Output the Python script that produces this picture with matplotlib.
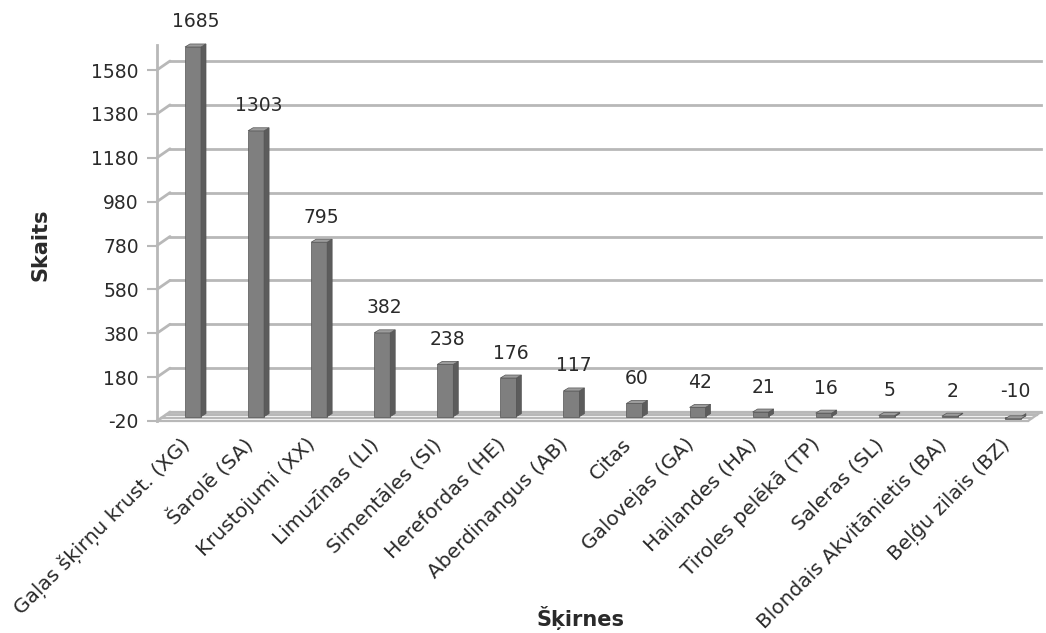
import matplotlib
matplotlib.use('Agg')
import matplotlib.pyplot as plt
from matplotlib.patches import Polygon
from matplotlib.transforms import ScaledTranslation
import numpy as np

plt.rcParams['font.family'] = ['DejaVu Sans']

# dati
skirnes = ['Gaļas šķirņu krust. (XG)', 'Šarolē (SA)', 'Krustojumi (XX)', 'Limuzīnas (LI)',
           'Simentāles (SI)', 'Herefordas (HE)', 'Aberdinangus (AB)', 'Citas',
           'Galovejas (GA)', 'Hailandes (HA)', 'Tiroles pelēkā (TP)', 'Saleras (SL)',
           'Blondais Akvitānietis (BA)', 'Beļģu zilais (BZ)']
skaits = [1685, 1303, 795, 382, 238, 176, 117, 60, 42, 21, 16, 5, 2, -10]
y_ticks = [-20, 180, 380, 580, 780, 980, 1180, 1380, 1580]

W, H = 1046, 633
fig = plt.figure(figsize=(W / 100, H / 100), dpi=100)
# axes in pixel geometry
x0, x1 = 157, 1028
y_bot, y_top = 421, 45
ax = fig.add_axes([x0 / W, 1 - y_bot / H, (x1 - x0) / W, (y_bot - y_top) / H])

px_per_val = 351 / 1600.0
ymin = -20
ymax = ymin + (y_bot - y_top) / px_per_val
step_px = 63.07
xmin = -(193 - x0) / step_px
xmax = xmin + (x1 - x0) / step_px
ax.set_xlim(xmin, xmax)
ax.set_ylim(ymin, ymax)

grid_c = '#b8b8b8'
txt_c = '#2a2a2a'
dx_px, dy_px = 13, 9
shift = ScaledTranslation(dx_px / 100, dy_px / 100, fig.dpi_scale_trans)
ytr = ax.get_yaxis_transform()

# back wall gridlines (offset in depth)
for t in y_ticks:
    ax.plot([0, 1], [t, t], transform=ytr + shift, color=grid_c, lw=2, clip_on=False, zorder=1)
    ax.annotate('', xy=(0, t), xycoords=ytr, xytext=(0, t), textcoords=ytr + shift,
                arrowprops=dict(arrowstyle='-', color=grid_c, lw=2, shrinkA=0, shrinkB=0))

# floor
for off in [0, 3, 6, 9]:
    s = ScaledTranslation(off * dx_px / 9 / 100, off / 100, fig.dpi_scale_trans)
    ax.plot([0, 1], [ymin, ymin], transform=ytr + s, color=grid_c, lw=1.6, clip_on=False, zorder=1)
ax.annotate('', xy=(1, ymin), xycoords=ytr, xytext=(1, ymin), textcoords=ytr + shift,
            arrowprops=dict(arrowstyle='-', color=grid_c, lw=1.6, shrinkA=0, shrinkB=0))

# bars (3D look)
xs = np.arange(len(skaits))
bw = 16 / step_px
sdx = 5 / step_px
sdy = 3 / px_per_val
front_c, side_c, top_c, edge_c = '#7f7f7f', '#5c5c5c', '#9c9c9c', '#555555'
for x, v in zip(xs, skaits):
    ax.bar(x, v, width=bw, color=front_c, edgecolor=edge_c, lw=0.5, zorder=3, clip_on=False)
    l, r = x - bw / 2, x + bw / 2
    side = Polygon([(r, 0), (r + sdx, sdy), (r + sdx, v + sdy), (r, v)],
                   closed=True, fc=side_c, ec=edge_c, lw=0.5, zorder=3, clip_on=False)
    top = Polygon([(l, v), (r, v), (r + sdx, v + sdy), (l + sdx, v + sdy)],
                  closed=True, fc=top_c, ec=edge_c, lw=0.5, zorder=3, clip_on=False)
    ax.add_patch(side)
    ax.add_patch(top)
    ax.annotate(str(v), (x + sdx / 2, max(v, 0) + sdy), xytext=(0, 9), textcoords='offset points',
                ha='center', va='bottom', fontsize=13.5, color=txt_c, zorder=4,
                annotation_clip=False)

for sp in ['top', 'right', 'bottom']:
    ax.spines[sp].set_visible(False)
ax.spines['left'].set_color(grid_c)
ax.spines['left'].set_linewidth(2)

ax.set_yticks(y_ticks)
ax.set_yticklabels([str(t) for t in y_ticks], fontsize=13.5, color=txt_c)
ax.tick_params(axis='y', length=7, width=1.5, color=grid_c, pad=6)
ax.set_xticks(xs)
ax.set_xticklabels(skirnes, rotation=45, ha='right', va='top', rotation_mode='anchor',
                   fontsize=14.5, color=txt_c)
ax.tick_params(axis='x', length=0, pad=10)
lab_shift = ScaledTranslation(-13 / 100, 0, fig.dpi_scale_trans)
for lab in ax.get_xticklabels():
    lab.set_transform(lab.get_transform() + lab_shift)

ax.set_ylabel('Skaits', fontsize=15, fontweight='bold', color=txt_c)
ax.yaxis.set_label_coords(-0.122, 0.47)
fig.text(580 / W, 1 - 618 / H, 'Šķirnes', fontsize=15, fontweight='bold', color=txt_c,
         ha='center', va='center')

fig.savefig('out.png', dpi=100)
